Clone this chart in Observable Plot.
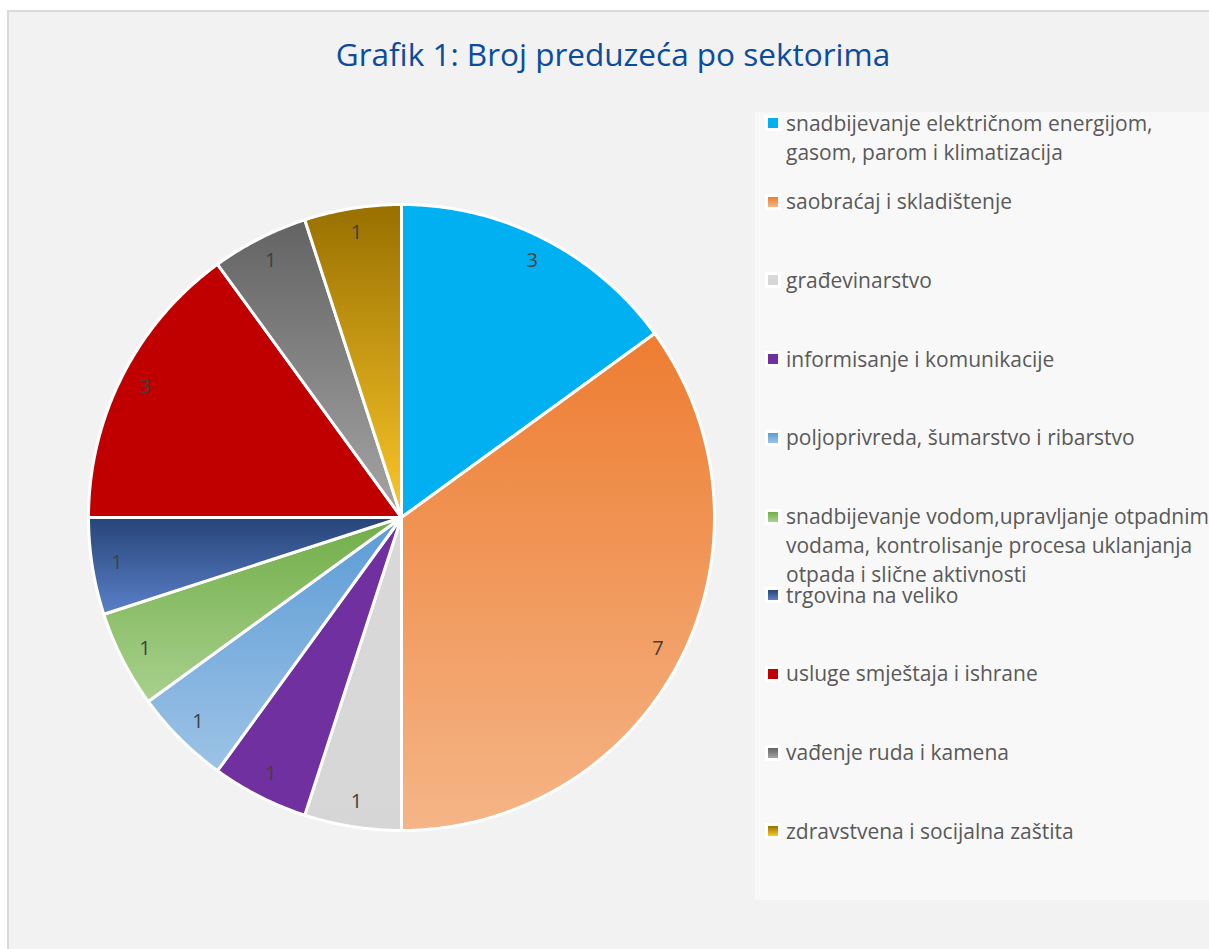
<!DOCTYPE html>
<html>
<head>
<meta charset="utf-8">
<script src="https://cdn.jsdelivr.net/npm/d3@7"></script>
<script src="https://cdn.jsdelivr.net/npm/@observablehq/plot@0.6"></script>
<style>
  html, body { margin: 0; padding: 0; background: #ffffff; }
  body { width: 1209px; height: 949px; position: relative; overflow: hidden; font-family: "Open Sans", Lato, sans-serif; }
  #frame { position: absolute; left: 7px; top: 10px; width: 1230px; height: 970px; background: #f2f2f2; border: 2px solid #d9d9d9; box-sizing: border-box; }
  #title { position: absolute; left: 9px; width: 1208px; top: 34px; text-align: center; font-size: 31.5px; color: #0b4c9c; line-height: 40px; white-space: nowrap; }
  #legend { position: absolute; left: 755px; top: 112px; width: 470px; height: 788px; background: #f8f8f8; }
  .sw { position: absolute; left: 0px; width: 10px; height: 10px; border: 3px solid #ffffff; }
  .txt { position: absolute; left: 31px; width: 430px; font-size: 21px; line-height: 29px; color: #595959; }
  #chart { position: absolute; left: 0; top: 0; }
</style>
</head>
<body>
<div id="frame"></div>
<div id="title"></div>
<div id="legend"></div>
<div id="chart"></div>
<script>
// ---- data ----
const titleText = "Grafik 1: Broj preduzeća po sektorima";
const categories = [
  "snadbijevanje električnom energijom, gasom, parom i klimatizacija",
  "saobraćaj i skladištenje",
  "građevinarstvo",
  "informisanje i komunikacije",
  "poljoprivreda, šumarstvo i ribarstvo",
  "snadbijevanje vodom,upravljanje otpadnim vodama, kontrolisanje procesa uklanjanja otpada i slične aktivnosti",
  "trgovina na veliko",
  "usluge smještaja i ishrane",
  "vađenje ruda i kamena",
  "zdravstvena i socijalna zaštita"
];
const values = [3, 7, 1, 1, 1, 1, 1, 3, 1, 1];
const colorTop    = ["#00b0f0", "#ed7d31", "#d9d9d9", "#7030a0", "#5b9bd5", "#70ad47", "#264478", "#c00000", "#636363", "#987000"];
const colorBottom = ["#00b0f0", "#f5b587", "#d6d6d6", "#7030a0", "#9dc3e6", "#a9d18e", "#5b80c8", "#c00000", "#a5a5a5", "#fcc72a"];

// ---- title ----
document.getElementById("title").textContent = titleText;

// ---- pie geometry from data ----
const arcs = d3.pie().sort(null).value(d => d)(values);
const slicePts = [];
arcs.forEach((a, i) => {
  slicePts.push({i, x: 0, y: 0});
  const n = Math.max(4, Math.ceil((a.endAngle - a.startAngle) / (Math.PI / 360)));
  for (let k = 0; k <= n; k++) {
    const t = a.startAngle + (a.endAngle - a.startAngle) * k / n;
    slicePts.push({i, x: Math.sin(t), y: Math.cos(t)});
  }
});
const labels = arcs.map((a, i) => {
  const m = (a.startAngle + a.endAngle) / 2;
  return {v: String(values[i]), x: 0.92 * Math.sin(m), y: 0.92 * Math.cos(m)};
});

const svg = Plot.plot({
  width: 1209,
  height: 949,
  margin: 0,
  x: {domain: [-1, 1], range: [88, 714], axis: null},
  y: {domain: [-1, 1], range: [830, 204], axis: null},
  color: {type: "identity"},
  style: {background: "transparent", fontFamily: "'Open Sans', sans-serif"},
  marks: [
    Plot.line(slicePts, {
      x: "x", y: "y", z: "i",
      fill: d => `url(#pg${d.i})`,
      stroke: "#ffffff", strokeWidth: 3, strokeLinejoin: "round",
      curve: "linear-closed"
    }),
    Plot.text(labels, {x: "x", y: "y", text: "v", fill: "#404040", fontSize: 20})
  ]
});

// gradients
const defs = d3.select(svg).insert("defs", ":first-child");
categories.forEach((c, i) => {
  const g = defs.append("linearGradient").attr("id", `pg${i}`)
    .attr("x1", 0).attr("y1", 0).attr("x2", 0).attr("y2", 1);
  g.append("stop").attr("offset", "0%").attr("stop-color", colorTop[i]);
  g.append("stop").attr("offset", "100%").attr("stop-color", colorBottom[i]);
});
document.getElementById("chart").appendChild(svg);

// ---- legend ----
const legend = document.getElementById("legend");
categories.forEach((c, i) => {
  const cy = 11 + 78.7 * i; // center of first line, relative to legend box
  const sw = document.createElement("div");
  sw.className = "sw";
  sw.style.left = "10px";
  sw.style.top = (cy - 8) + "px";
  sw.style.background = `linear-gradient(${colorTop[i]}, ${colorBottom[i]})`;
  legend.appendChild(sw);
  const t = document.createElement("div");
  t.className = "txt";
  t.style.top = (cy - 14.5) + "px";
  t.textContent = c;
  legend.appendChild(t);
});
</script>
</body>
</html>
